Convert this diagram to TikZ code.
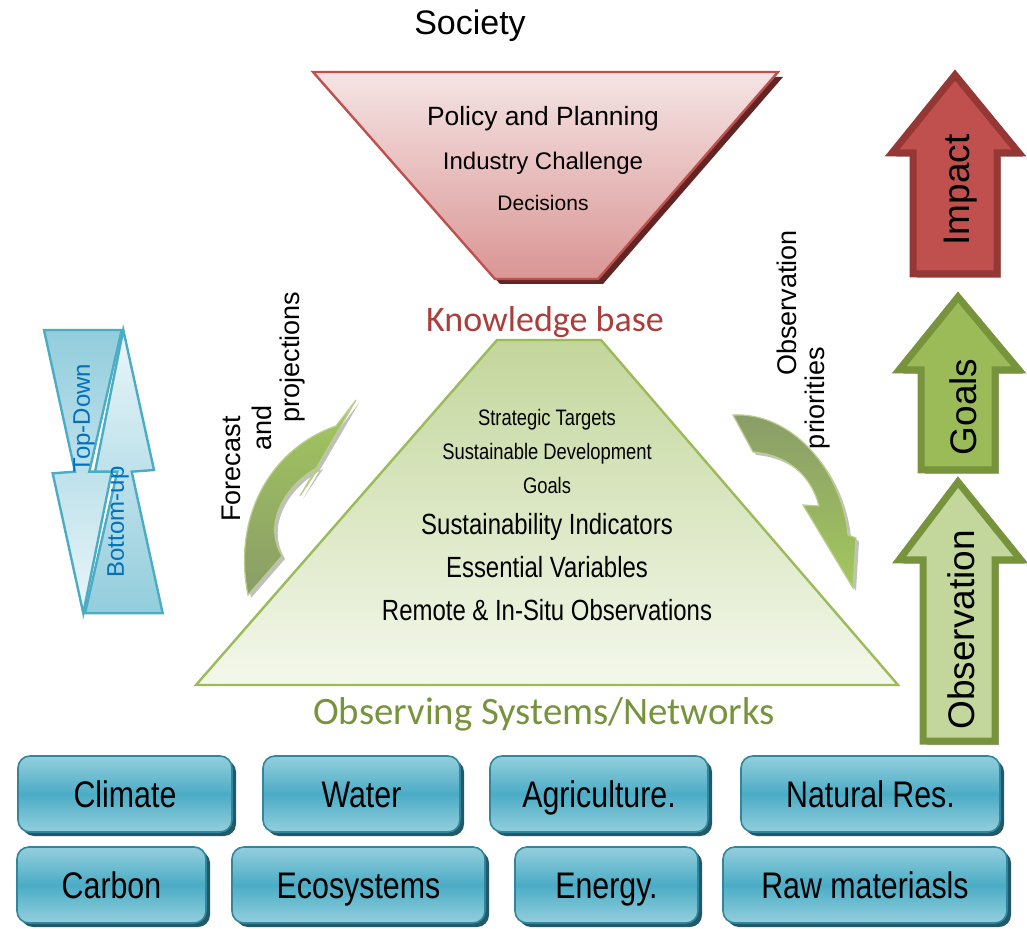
\documentclass[tikz,border=0pt]{standalone}
\usepackage{fontspec}
\setmainfont{Liberation Sans}
\newfontfamily\narrowfont{Liberation Sans}[FakeStretch=0.82]
\newfontfamily\roundfont{Carlito}
\usetikzlibrary{shadows}

\definecolor{policyline}{HTML}{C0504D}
\definecolor{policytop}{HTML}{F5E4E4}
\definecolor{policybot}{HTML}{D99694}
\definecolor{policyshadow}{HTML}{632523}
\definecolor{knowred}{HTML}{A93F3C}
\definecolor{pyramidline}{HTML}{9BBB59}
\definecolor{pyramidtop}{HTML}{C3D69B}
\definecolor{pyramidbot}{HTML}{F4F8EC}
\definecolor{netgreen}{HTML}{77933C}
\definecolor{tileline}{HTML}{31859C}
\definecolor{tilelight}{HTML}{94CFDD}
\definecolor{tilemid}{HTML}{4BACC6}
\definecolor{tileshadow}{HTML}{215968}
\definecolor{flowline}{HTML}{4BACC6}
\definecolor{flowdark}{HTML}{92CDDC}
\definecolor{flowlight}{HTML}{EAF6F9}
\definecolor{flowtext}{HTML}{0070C0}
\definecolor{impactfill}{HTML}{C0504D}
\definecolor{impactline}{HTML}{953735}
\definecolor{goalsfill}{HTML}{9BBB59}
\definecolor{obsfill}{HTML}{C3D69B}
\definecolor{curvedark}{HTML}{8A9C68}
\definecolor{curvelight}{HTML}{A3C85E}

\begin{document}
\begin{tikzpicture}[x=0.5pt,y=-0.5pt]
	\tikzstyle{tile} = [rectangle, rounded corners=6pt, draw=tileline, line width=0.8pt, top color=tilelight, bottom color=tilelight, middle color=tilemid, minimum height=38pt, inner sep=0pt, text height=13.2pt, text depth=0pt, font=\narrowfont\fontsize{18.5}{20}\selectfont, drop shadow={shadow xshift=2pt, shadow yshift=-2pt, fill=tileshadow, opacity=1}]
	\tikzstyle{level} = [inner sep=0pt, text height=10.5pt, text depth=0pt, font=\narrowfont\fontsize{14.6}{16}\selectfont]
	\tikzstyle{sublevel} = [inner sep=0pt, text height=8pt, text depth=0pt, font=\narrowfont\fontsize{11.2}{13}\selectfont]
	\tikzstyle{sidetext} = [rotate=90, inner sep=0pt, font=\fontsize{13.5}{15}\selectfont]
	\tikzstyle{blockarrow} = [line width=3.5pt, line join=miter, drop shadow={shadow xshift=2pt, shadow yshift=-2pt, fill=black, opacity=0.3}]
	\tikzstyle{blocktext} = [rotate=90, inner sep=0pt, font=\fontsize{18.5}{20}\selectfont]
	\tikzstyle{flow} = [draw=flowline, line width=1.2pt, line join=miter]
	\tikzstyle{curve} = [draw=pyramidline!70!white, line width=0.6pt, drop shadow={shadow xshift=1.5pt, shadow yshift=-1.5pt, fill=black, opacity=0.25}]

	\useasboundingbox (0,0) rectangle (1027,929);

	% society side
	\node [inner sep=0pt, text height=12.2pt, text depth=0pt, font=\fontsize{17}{19}\selectfont] (society) at (470,22) {Society};
	\draw [policyline, line width=1.2pt, top color=policytop, bottom color=policybot, drop shadow={shadow xshift=2.5pt, shadow yshift=-2.5pt, fill=policyshadow, opacity=1}] (313,72) -- (778,72) -- (598,279) -- (495,279) -- cycle;
	\node [inner sep=0pt, font=\fontsize{13.2}{15}\selectfont] (policy) at (543,119) {Policy and Planning};
	\node [inner sep=0pt, font=\fontsize{12}{14}\selectfont] (industry) at (543,163) {Industry Challenge};
	\node [inner sep=0pt, font=\fontsize{10.5}{12}\selectfont] (decisions) at (543,203) {Decisions};

	\node [inner sep=0pt, text=knowred, font=\roundfont\fontsize{18}{20}\selectfont] (know) at (545,322) {Knowledge base};

	% pyramid
	\draw [pyramidline, line width=1.2pt, top color=pyramidtop, bottom color=pyramidbot] (497,340) -- (601,340) -- (898,685) -- (196,685) -- cycle;
	\node [sublevel] (targets) at (547,418) {Strategic Targets};
	\node [sublevel] (sdg) at (547,452) {Sustainable Development};
	\node [sublevel] (goalsline) at (547,486) {Goals};
	\node [level] (indicators) at (547,524) {Sustainability Indicators};
	\node [level] (variables) at (547,567) {Essential Variables};
	\node [level] (observations) at (547,610) {Remote \& In-Situ Observations};
	\node [inner sep=0pt, text=netgreen, font=\roundfont\fontsize{19.4}{21}\selectfont] (networks) at (544,714) {Observing Systems/Networks};

	% curved arrows
	\path [curve, top color=curvelight, bottom color=curvedark] (248,595) .. controls (232,515) and (272,448) .. (336,426) -- (356,400) -- (300,496) -- (320,466) .. controls (286,484) and (262,522) .. (282,556) -- cycle;
	\path [curve, top color=curvedark, bottom color=curvelight] (733,415) .. controls (792,412) and (842,470) .. (848,535) -- (856,538) -- (853,588) -- (803,505) -- (819,506) .. controls (812,478) and (790,455) .. (753,452) -- cycle;
	\node [sidetext] (forecast) at (231,469) {Forecast};
	\node [sidetext] (and) at (262,428) {and};
	\node [sidetext] (projections) at (293,357) {projections};
	\node [sidetext] (obspri) at (787,303) {Observation};
	\node [sidetext] (priorities) at (818,398) {priorities};

	% top-down / bottom-up
	\path [flow, top color=flowdark, bottom color=flowlight] (44,330) -- (121.7,330) -- (89.3,471.7) -- (111.7,471.7) -- (83.3,613.3) -- (52.7,473.3) -- (75,471.7) -- cycle;
	\path [flow, top color=flowlight, bottom color=flowdark] (162.7,613.3) -- (85,613.3) -- (117.3,471.7) -- (95,471.7) -- (123.3,330) -- (154,470) -- (131.7,471.7) -- cycle;
	\node [rotate=90, inner sep=0pt, text=flowtext, font=\fontsize{12}{14}\selectfont] (topdown) at (84,418) {Top-Down};
	\node [rotate=90, inner sep=0pt, text=flowtext, font=\fontsize{12}{14}\selectfont] (bottomup) at (118,522) {Bottom-up};

	% right column
	\path [blockarrow, draw=impactline, fill=impactfill] (913,274) -- (913,153) -- (892,153) -- (955,75) -- (1019,153) -- (997,153) -- (997,274) -- cycle;
	\path [blockarrow, draw=netgreen, fill=goalsfill] (921,470) -- (921,370) -- (899,370) -- (958,297) -- (1019,370) -- (995,370) -- (995,470) -- cycle;
	\path [blockarrow, draw=netgreen, fill=obsfill] (923,741) -- (923,560) -- (899,560) -- (958,482) -- (1021,560) -- (995,560) -- (995,741) -- cycle;
	\node [blocktext] (impact) at (961,190) {Impact};
	\node [blocktext] (goals) at (963,407) {Goals};
	\node [blocktext] (observation) at (961,630) {Observation};

	% domains
	\node [tile, minimum width=107pt] (climate) at (125,794) {Climate};
	\node [tile, minimum width=98.5pt] (water) at (361.5,794) {Water};
	\node [tile, minimum width=109pt] (agri) at (599,794) {Agriculture.};
	\node [tile, minimum width=129.5pt] (natres) at (870.5,794) {Natural Res.};
	\node [tile, minimum width=94.5pt] (carbon) at (111.5,885) {Carbon};
	\node [tile, minimum width=126.5pt] (eco) at (358.5,885) {Ecosystems};
	\node [tile, minimum width=91.5pt] (energy) at (606.5,885) {Energy.};
	\node [tile, minimum width=142pt] (raw) at (865,885) {Raw materiasls};
\end{tikzpicture}
\end{document}
